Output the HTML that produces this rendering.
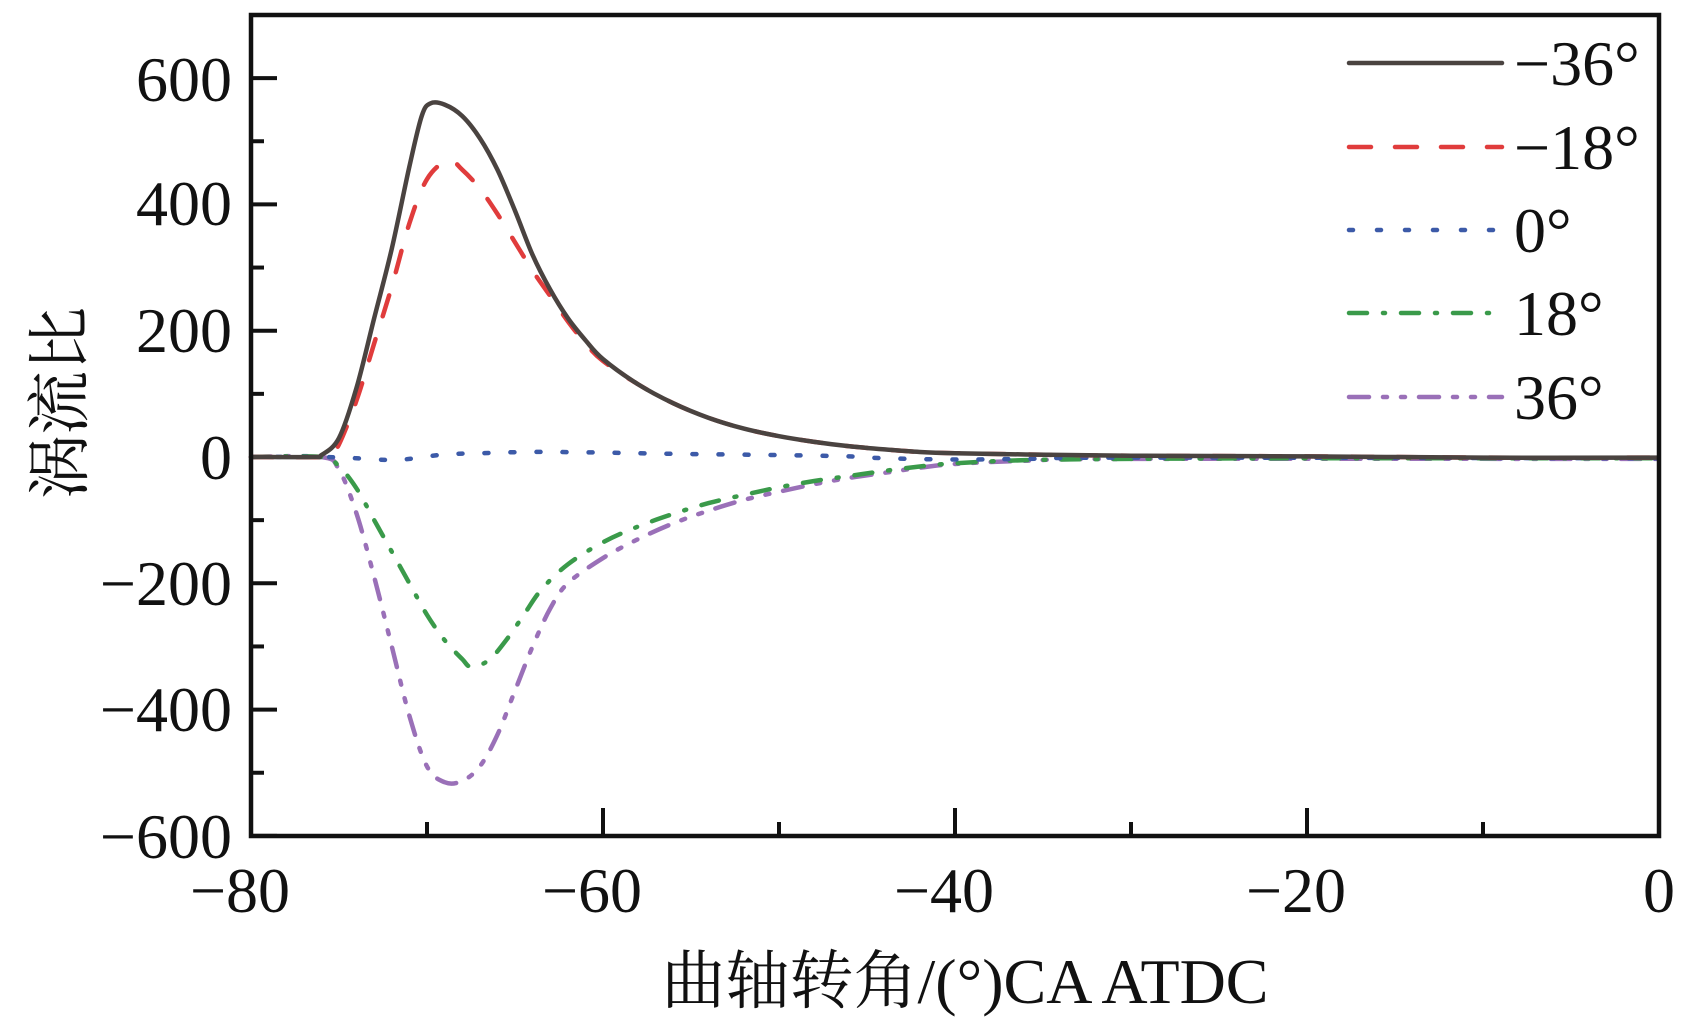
<!DOCTYPE html>
<html><head><meta charset="utf-8"><style>
body{margin:0;background:#fff;}
svg{display:block}
text{font-family:"Liberation Serif","Noto Serif CJK SC",serif;fill:#111;}
</style></head><body>
<svg id="s" width="1701" height="1028" viewBox="0 0 1701 1028" xmlns="http://www.w3.org/2000/svg">
<g id="ticks" stroke="#111" stroke-width="4"></g>
<g id="curves" fill="none" stroke-width="4.5" stroke-linejoin="round"></g>
<rect x="251" y="15" width="1408" height="821" fill="none" stroke="#111" stroke-width="4.5"/>
<g font-size="64" text-anchor="end">
<text x="232" y="101">600</text>
<text x="232" y="225">400</text>
<text x="232" y="352">200</text>
<text x="232" y="479">0</text>
<text x="232" y="605">−200</text>
<text x="232" y="731">−400</text>
<text x="232" y="858">−600</text>
</g>
<g font-size="64" text-anchor="middle">
<text x="240" y="912">−80</text>
<text x="592" y="912">−60</text>
<text x="944" y="912">−40</text>
<text x="1296" y="912">−20</text>
<text x="1659" y="912">0</text>
<text x="965" y="1003">曲轴转角/(°)CA ATDC</text>
<text transform="translate(82,403) rotate(-90)">涡流比</text>
</g>
<g stroke-width="4.5" stroke-linecap="round">
<line x1="1349" y1="63" x2="1502" y2="63" stroke="#4a4340"/>
<line x1="1349" y1="147" x2="1502" y2="147" stroke="#e03c3c" stroke-dasharray="22,24"/>
<line x1="1349" y1="230" x2="1502" y2="230" stroke="#3c5aa8" stroke-dasharray="4,24"/>
<line x1="1349" y1="313" x2="1492" y2="313" stroke="#3a9a4a" stroke-dasharray="18,16,2,16"/>
<line x1="1349" y1="397" x2="1502" y2="397" stroke="#9a70b8" stroke-dasharray="20,14,4,14,4,14"/>
</g>
<g font-size="64">
<text x="1514" y="85">−36°</text>
<text x="1514" y="169">−18°</text>
<text x="1514" y="252">0°</text>
<text x="1514" y="335">18°</text>
<text x="1514" y="419">36°</text>
</g>
</svg>
<script>
var X=function(x){return 251+(x+80)*17.6;},Y=function(v){return 457-v*0.6315;};
var tg=document.getElementById('ticks'),h='';
for(var v=-600;v<=600;v+=100){var y=Y(v),L=(v%200==0)?26:13;h+='<line x1="251" y1="'+y+'" x2="'+(251+L)+'" y2="'+y+'"/>';}
for(var x=-80;x<=0;x+=10){var xx=X(x),L=(x%20==0)?28:14;h+='<line x1="'+xx+'" y1="836" x2="'+xx+'" y2="'+(836-L)+'"/>';}
tg.innerHTML=h;
var tail=[[-58,115],[-56,85],[-54,62],[-52,45],[-50,33],[-48,24],[-46,17],[-44,12],[-42,8],[-40,6],[-36,4],[-30,2],[-20,1],[-10,-1],[0,-1]];
var c1=[[-80,0],[-76.5,0],[-76,3],[-75,30],[-74,110],[-73,220],[-72,330],[-71,460],[-70.3,540],[-69.8,560],[-69,558],[-68,540],[-67,505],[-66,455],[-65,390],[-64,320],[-63,265],[-62,220],[-61,185],[-60,155]].concat(tail);
var c2=[[-80,0],[-76,0],[-75.5,5],[-75,20],[-74,90],[-73,180],[-72,270],[-71,370],[-70,440],[-68.8,470],[-68,455],[-67,425],[-66,385],[-65,340],[-64,295],[-63,255],[-62,215],[-61,180],[-60,152]].concat(tail);
var c3=[[-80,0],[-76,0],[-74,-2],[-72,-5],[-71,-3],[-69,4],[-67,6],[-64,8],[-60,7],[-56,5],[-50,3],[-46,1],[-44,-2],[-40,-4],[-36,-3],[-30,-1],[0,-2]];
var c4=[[-80,0],[-76,0],[-75,-15],[-74,-50],[-73,-100],[-72,-150],[-71,-200],[-70,-250],[-69,-290],[-68,-320],[-67.5,-332],[-66.5,-322],[-65.5,-290],[-64.5,-250],[-63.5,-210],[-62,-170],[-60,-135],[-58,-110],[-56,-90],[-54,-73],[-52,-60],[-50,-48],[-48,-38],[-46,-30],[-44,-22],[-42,-15],[-40,-10],[-36,-5],[-30,-3],[-20,-2],[0,-2]];
var c5=[[-80,0],[-76,0],[-75,-20],[-74,-90],[-73,-190],[-72,-300],[-71,-410],[-70,-490],[-69,-515],[-68,-513],[-67,-490],[-66,-440],[-65,-370],[-64,-300],[-63,-240],[-62,-200],[-60,-160],[-58,-130],[-56,-105],[-54,-85],[-52,-68],[-50,-55],[-48,-43],[-46,-33],[-44,-25],[-42,-17],[-40,-11],[-36,-6],[-30,-3],[0,-3]];
function path(d){var p=d.map(function(a){return [X(a[0]),Y(a[1])];});var s='M'+p[0][0]+','+p[0][1];
for(var i=0;i<p.length-1;i++){var p0=p[i-1]||p[i],p1=p[i],p2=p[i+1],p3=p[i+2]||p2;
s+=' C'+(p1[0]+(p2[0]-p0[0])/6)+','+(p1[1]+(p2[1]-p0[1])/6)+' '+(p2[0]-(p3[0]-p1[0])/6)+','+(p2[1]-(p3[1]-p1[1])/6)+' '+p2[0]+','+p2[1];}return s;}
var specs=[[c5,'#9a70b8','20,14,4,14,4,14'],[c4,'#3a9a4a','18,16,2,16'],[c3,'#3c5aa8','4,22'],[c2,'#e03c3c','22,24'],[c1,'#4a4340','']];
var g=document.getElementById('curves'),o='';
specs.forEach(function(s){o+='<path d="'+path(s[0])+'" stroke="'+s[1]+'"'+(s[2]?' stroke-dasharray="'+s[2]+'" stroke-linecap="round"':'')+'/>';});
g.innerHTML=o;
</script>
</body></html>
